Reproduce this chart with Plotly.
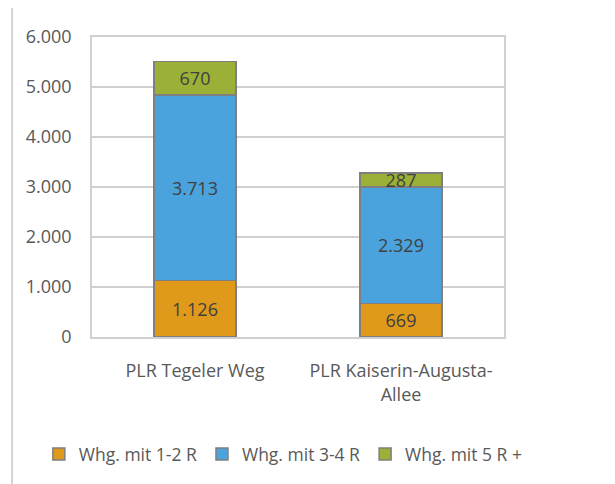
import plotly.graph_objects as go

# Wohnungen nach Raumzahl je Planungsraum
areas = ["PLR Tegeler Weg", "PLR Kaiserin-Augusta-<br>Allee"]
whg_1_2 = [1126, 669]
whg_3_4 = [3713, 2329]
whg_5 = [670, 287]

series = [
    ("Whg. mit 1-2 R", whg_1_2, "#DF991B"),
    ("Whg. mit 3-4 R", whg_3_4, "#4BA3DE"),
    ("Whg. mit 5 R +", whg_5, "#9BB036"),
]

fig = go.Figure()
for name, vals, color in series:
    fig.add_trace(go.Bar(
        x=areas, y=vals, name=name,
        marker=dict(color=color, line=dict(color="#7F7F7F", width=1.5)),
        texttemplate="%{y:,}", textposition="inside", insidetextanchor="middle",
        textangle=0, textfont=dict(color="#404040", size=18),
    ))

# page body has an 8px margin, so margins are shifted by -8
fig.update_layout(
    width=615, height=484,
    barmode="stack", bargap=0.6,
    separators=",.",
    uniformtext=dict(mode="show", minsize=18),
    font=dict(family="Open Sans, Noto Sans, sans-serif", size=18, color="#595959"),
    paper_bgcolor="white", plot_bgcolor="white",
    margin=dict(l=84, r=119, t=29, b=155, autoexpand=False),
    legend=dict(orientation="h", x=-0.129, xanchor="left", y=-0.33, yanchor="top",
                font=dict(size=17.5, color="#595959"), itemwidth=30,
                traceorder="normal"),
    showlegend=True,
)
fig.update_yaxes(range=[0, 6000], dtick=1000, tickformat=",",
                 showgrid=True, gridcolor="#D0D0D0", gridwidth=1.5,
                 showline=True, linecolor="#D0D0D0", linewidth=1.5, mirror=True,
                 zeroline=False, ticklabelstandoff=15, automargin=False)
fig.update_xaxes(showline=True, linecolor="#D0D0D0", linewidth=1.5, mirror=True,
                 ticklabelstandoff=17, automargin=False, tickangle=0)

# outer chart frame
fig.add_shape(type="rect", xref="paper", yref="paper",
              x0=-0.194, x1=3, y0=-3, y1=1.1,
              line=dict(color="#C8C8C8", width=1.5), fillcolor="rgba(0,0,0,0)",
              layer="below")

fig.write_html("out.html")
